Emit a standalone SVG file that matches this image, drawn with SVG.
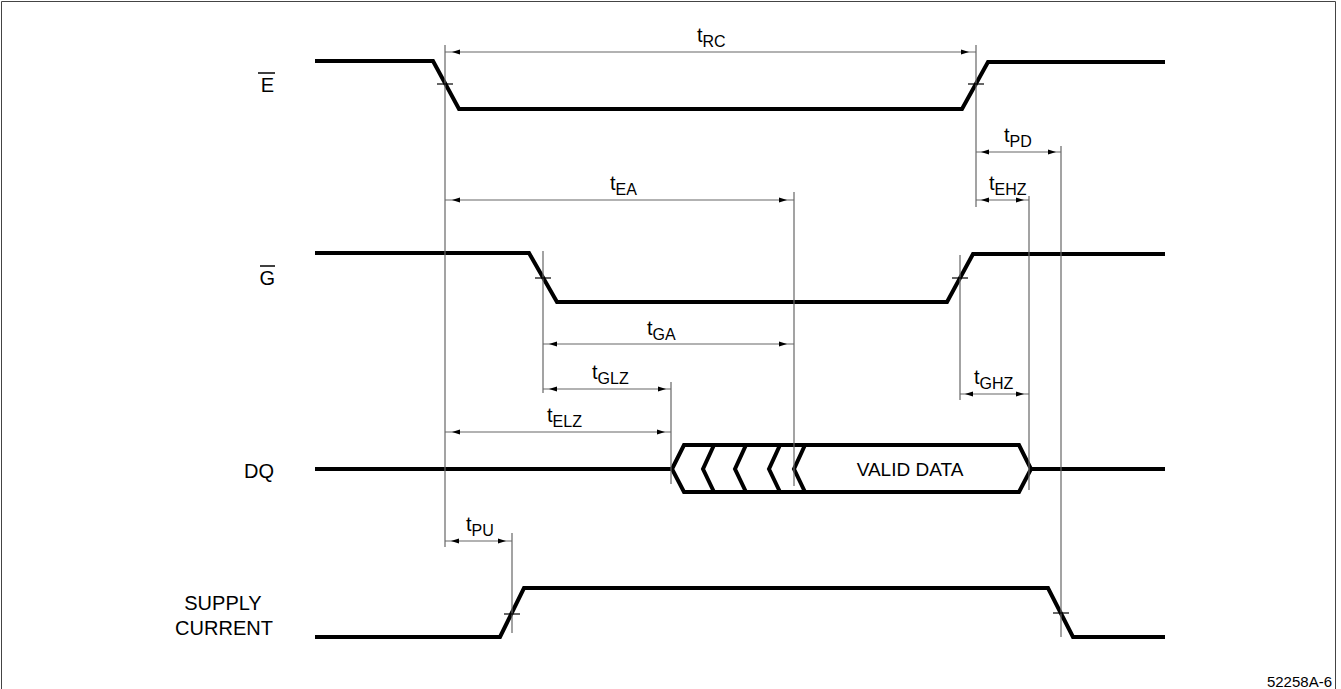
<svg xmlns="http://www.w3.org/2000/svg" xmlns:xlink="http://www.w3.org/1999/xlink" width="1341" height="689" viewBox="0 0 1341 689">
<style>
.sig{fill:none;stroke:#000;stroke-width:4;stroke-linejoin:miter;stroke-linecap:butt}
.ext{stroke:#666;stroke-width:1.2;fill:none}
.dim{stroke:#666;stroke-width:1.2;fill:none}
.tick{stroke:#000;stroke-width:1.2}
.lbl{font-family:"Liberation Sans",Arial,sans-serif;font-size:20px;fill:#000}
.tl{font-family:"Liberation Sans",Arial,sans-serif;font-size:20px;fill:#000}
.sub{font-size:16px}
.frame{fill:none;stroke:#444;stroke-width:1}
</style>
<defs>
<polygon id="aL" points="0,0 8,-2.5 8,2.5" fill="#000"/>
<polygon id="aR" points="0,0 -8,-2.5 -8,2.5" fill="#000"/>
</defs>
<rect width="1341" height="689" fill="#fff"/>
<path class="frame" d="M1.5,689 V1.5 H1335.5 V689"/>

<g id="label-E">
<text class="lbl" x="274" y="92" text-anchor="end">E</text>
<line x1="258" y1="73" x2="275" y2="73" stroke="#000" stroke-width="1.5"/>
</g>
<g id="label-G">
<text class="lbl" x="275" y="285" text-anchor="end">G</text>
<line x1="260" y1="266" x2="275" y2="266" stroke="#000" stroke-width="1.5"/>
</g>
<g id="label-DQ">
<text class="lbl" x="274" y="478" text-anchor="end">DQ</text>
</g>
<g id="label-supply">
<text class="lbl" x="223" y="610" text-anchor="middle">SUPPLY</text>
<text class="lbl" x="224" y="635" text-anchor="middle">CURRENT</text>
</g>

<g id="signal-E">
<polyline class="sig" points="315,61 433,61 459,109 962,109 988,62 1165,62"/>
</g>
<g id="signal-G">
<polyline class="sig" points="315,253 529,253 557,302 947,302 973,254 1165,254"/>
</g>
<g id="signal-DQ">
<line class="sig" x1="315" y1="469" x2="672" y2="469"/>
<path class="sig" d="M672,469 L684,445 L1019,445 L1031,469 L1019,492 L684,492 Z"/>
<path class="sig" d="M714,445 L703,469 L714,492 M746,445 L735,469 L746,492 M780,445 L769,469 L780,492 M805,445 L794,469 L805,492"/>
<line class="sig" x1="1031" y1="469" x2="1165" y2="469"/>
<text class="lbl" x="910" y="476" text-anchor="middle" style="font-size:19px">VALID DATA</text>
</g>
<g id="signal-supply">
<polyline class="sig" points="315,637 500,637 524,588 1048,588 1073,637 1165,637"/>
</g>

<g id="connectors">
<line class="ext" x1="445" y1="45" x2="445" y2="547"/>
<line class="ext" x1="976" y1="45" x2="976" y2="207"/>
<line class="ext" x1="1061" y1="146" x2="1061" y2="637"/>
<line class="ext" x1="1029" y1="196" x2="1029" y2="490"/>
<line class="ext" x1="794" y1="192" x2="794" y2="486"/>
<line class="ext" x1="543" y1="251" x2="543" y2="393"/>
<line class="ext" x1="671" y1="382" x2="671" y2="484"/>
<line class="ext" x1="960" y1="255" x2="960" y2="400"/>
<line class="ext" x1="512" y1="533" x2="512" y2="633"/>

<line class="tick" x1="437" y1="84" x2="453" y2="84"/>
<line class="tick" x1="968" y1="84" x2="984" y2="84"/>
<line class="tick" x1="535" y1="278" x2="551" y2="278"/>
<line class="tick" x1="952" y1="278" x2="968" y2="278"/>
<line class="tick" x1="504" y1="614" x2="520" y2="614"/>
<line class="tick" x1="1053" y1="613" x2="1069" y2="613"/>

<line class="dim" x1="445" y1="52" x2="976" y2="52"/>
<use xlink:href="#aL" x="452" y="52"/><use xlink:href="#aR" x="969" y="52"/>
<line class="dim" x1="976" y1="152" x2="1061" y2="152"/>
<use xlink:href="#aL" x="981" y="152"/><use xlink:href="#aR" x="1056" y="152"/>
<line class="dim" x1="976" y1="200" x2="1029" y2="200"/>
<use xlink:href="#aL" x="981" y="200"/><use xlink:href="#aR" x="1024" y="200"/>
<line class="dim" x1="445" y1="200" x2="794" y2="200"/>
<use xlink:href="#aL" x="452" y="200"/><use xlink:href="#aR" x="787" y="200"/>
<line class="dim" x1="543" y1="344" x2="794" y2="344"/>
<use xlink:href="#aL" x="549" y="344"/><use xlink:href="#aR" x="787" y="344"/>
<line class="dim" x1="543" y1="389" x2="671" y2="389"/>
<use xlink:href="#aL" x="549" y="389"/><use xlink:href="#aR" x="666" y="389"/>
<line class="dim" x1="445" y1="432" x2="671" y2="432"/>
<use xlink:href="#aL" x="452" y="432"/><use xlink:href="#aR" x="665" y="432"/>
<line class="dim" x1="960" y1="394" x2="1029" y2="394"/>
<use xlink:href="#aL" x="965" y="394"/><use xlink:href="#aR" x="1024" y="394"/>
<line class="dim" x1="445" y1="541" x2="512" y2="541"/>
<use xlink:href="#aL" x="451" y="541"/><use xlink:href="#aR" x="506" y="541"/>
</g>

<g id="timing-labels">
<text class="tl" x="697" y="42">t<tspan class="sub" dy="5">RC</tspan></text>
<text class="tl" x="1004" y="142">t<tspan class="sub" dy="5">PD</tspan></text>
<text class="tl" x="989" y="190">t<tspan class="sub" dy="5">EHZ</tspan></text>
<text class="tl" x="610" y="190">t<tspan class="sub" dy="5">EA</tspan></text>
<text class="tl" x="647" y="335">t<tspan class="sub" dy="5">GA</tspan></text>
<text class="tl" x="592" y="379">t<tspan class="sub" dy="5">GLZ</tspan></text>
<text class="tl" x="547" y="422">t<tspan class="sub" dy="5">ELZ</tspan></text>
<text class="tl" x="974" y="384">t<tspan class="sub" dy="5">GHZ</tspan></text>
<text class="tl" x="466" y="531">t<tspan class="sub" dy="5">PU</tspan></text>
</g>

<text class="lbl" x="1332" y="687" text-anchor="end" style="font-size:15px">52258A-6</text>
</svg>
